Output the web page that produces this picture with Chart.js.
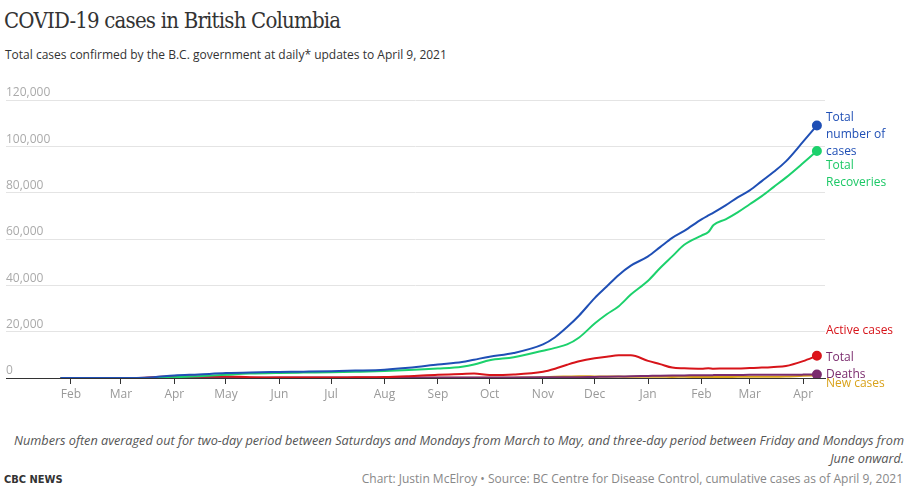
<!DOCTYPE html>
<html>
<head>
<meta charset="utf-8">
<title>COVID-19 cases in British Columbia</title>
<script src="https://cdn.jsdelivr.net/npm/chart.js@4.4.1/dist/chart.umd.min.js"></script>
<style>
  html, body { margin: 0; padding: 0; background: #fff; }
  body { width: 911px; height: 501px; position: relative; overflow: hidden; font-family: "Open Sans", sans-serif; }
  .abs { position: absolute; white-space: nowrap; }
  #title { left: 4px; top: 8px; font-family: "DejaVu Serif Condensed", "DejaVu Serif", serif; font-size: 22px; color: #333; letter-spacing: -0.8px; }
  #subtitle { left: 5px; top: 46px; font-size: 12px; color: #333; }
  #note { right: 7px; top: 431px; width: 900px; text-align: right; white-space: normal; font-size: 12.7px; font-style: italic; color: #555; line-height: 18px; }
  #brand { left: 4px; top: 473px; font-family: "DejaVu Sans Condensed", "DejaVu Sans", sans-serif; font-weight: bold; font-size: 11px; color: #333; }
  #source { right: 8px; top: 470px; font-size: 12px; color: #888; }
  #wrap { position: absolute; left: 0; top: 80px; width: 911px; height: 330px; }
</style>
</head>
<body>
<div id="title" class="abs">COVID-19 cases in British Columbia</div>
<div id="subtitle" class="abs">Total cases confirmed by the B.C. government at daily* updates to April 9, 2021</div>
<div id="wrap"><canvas id="chart"></canvas></div>
<div id="note" class="abs">Numbers often averaged out for two-day period between Saturdays and Mondays from March to May, and three-day period between Friday and Mondays from June onward.</div>
<div id="brand" class="abs">CBC NEWS</div>
<div id="source" class="abs">Chart: Justin McElroy • Source: BC Centre for Disease Control, cumulative cases as of April 9, 2021</div>

<script>
// Dates of the readings (shared by every series)
const dates = [
  "2020-01-26", "2020-02-15", "2020-03-01", "2020-03-10", "2020-03-20",
  "2020-04-01", "2020-04-15", "2020-05-01", "2020-05-15", "2020-06-01",
  "2020-06-15", "2020-07-01", "2020-07-15", "2020-08-01", "2020-08-15",
  "2020-09-01", "2020-09-15", "2020-09-22", "2020-10-01", "2020-10-15",
  "2020-11-01", "2020-11-08", "2020-11-15", "2020-11-22", "2020-12-01",
  "2020-12-08", "2020-12-15", "2020-12-22", "2021-01-01", "2021-01-08",
  "2021-01-15", "2021-01-22", "2021-02-01", "2021-02-05", "2021-02-08",
  "2021-02-15", "2021-02-22", "2021-03-01", "2021-03-08", "2021-03-15",
  "2021-03-22", "2021-04-01", "2021-04-09"
];

const totalCases = [
  0, 5, 8, 40, 350,
  1070, 1530, 2110, 2400, 2600,
  2750, 2950, 3200, 3600, 4400,
  5800, 6900, 7900, 9200, 10800,
  14500, 17600, 22000, 27000, 34500,
  39500, 44500, 48500, 52500, 56500,
  60500, 63500, 68500, 70200, 71400,
  74500, 78000, 81000, 85000, 89000,
  93500, 102000, 109000
];

const recoveries = [
  0, 0, 4, 5, 10,
  300, 800, 1400, 1900, 2200,
  2350, 2500, 2700, 3000, 3400,
  4100, 4900, 5800, 7700, 9000,
  11800, 13000, 14500, 17500, 23500,
  27500, 31000, 36000, 42000, 47500,
  52500, 57500, 61500, 63000, 66000,
  68500, 71500, 75000, 78500, 82500,
  86500, 92800, 98000
];

const activeCases = [
  0, 5, 4, 35, 330,
  730, 680, 640, 350, 250,
  200, 180, 280, 400, 800,
  1450, 1750, 1900, 1250, 1500,
  2700, 4000, 5700, 7200, 8500,
  9200, 9800, 9800, 7400, 6000,
  4500, 4200, 4000, 4200, 4000,
  4100, 4100, 4300, 4500, 4800,
  5200, 7300, 9600
];

const deaths = [
  0, 0, 0, 1, 8,
  25, 72, 111, 135, 164,
  168, 177, 187, 195, 200,
  208, 217, 224, 234, 250,
  273, 284, 299, 353, 457,
  527, 623, 755, 901, 1004,
  1078, 1126, 1168, 1231, 1242,
  1285, 1319, 1365, 1383, 1397,
  1421, 1458, 1488
];

const newCases = [
  0, 0, 0, 7, 60,
  53, 30, 30, 10, 15,
  10, 12, 20, 40, 80,
  100, 130, 120, 120, 160,
  300, 550, 650, 750, 700,
  650, 600, 500, 500, 550,
  480, 500, 420, 450, 420,
  430, 500, 520, 570, 560,
  650, 950, 1100
];

// Month ticks along the x axis
const monthStarts = [
  "2020-02-01", "2020-03-01", "2020-04-01", "2020-05-01", "2020-06-01",
  "2020-07-01", "2020-08-01", "2020-09-01", "2020-10-01", "2020-11-01",
  "2020-12-01", "2021-01-01", "2021-02-01", "2021-03-01", "2021-04-01"
];
const monthLabels = ["Feb", "Mar", "Apr", "May", "Jun", "Jul", "Aug", "Sep", "Oct", "Nov", "Dec", "Jan", "Feb", "Mar", "Apr"];

const yTicks = [0, 20000, 40000, 60000, 80000, 100000, 120000];

// Days since Feb 1, 2020 so a plain linear scale can be used
function dayOf(s) {
  const p = s.split("-").map(Number);
  return (Date.UTC(p[0], p[1] - 1, p[2]) - Date.UTC(2020, 1, 1)) / 86400000;
}

function toPoints(values) {
  return values.map(function (v, i) {
    return { x: dayOf(dates[i]), y: v };
  });
}

const lastIndex = dates.length - 1;
function endDot(size) {
  return function (ctx) { return ctx.dataIndex === lastIndex ? size : 0; };
}

// Text shown to the right of each line end
const endLabels = [
  { dataset: 0, lines: ["Total", "number of", "cases"], color: "#1f4fb5", dy: -8 },
  { dataset: 1, lines: ["Total", "Recoveries"], color: "#1cc866", dy: 15 },
  { dataset: 2, lines: ["Active cases"], color: "#d7141a", dy: -25 },
  { dataset: 3, lines: ["Total", "Deaths"], color: "#7b2c6e", dy: -17 },
  { dataset: 4, lines: ["New cases"], color: "#d9a21b", dy: 8 }
];

const endLabelPlugin = {
  id: "endLabels",
  afterDatasetsDraw: function (chart) {
    const ctx = chart.ctx;
    const yScale = chart.scales.y;
    ctx.save();
    ctx.font = "12px 'Open Sans'";
    ctx.textAlign = "left";
    ctx.textBaseline = "middle";
    endLabels.forEach(function (lab) {
      const data = chart.data.datasets[lab.dataset].data;
      const y0 = yScale.getPixelForValue(data[data.length - 1].y) + lab.dy;
      ctx.fillStyle = lab.color;
      lab.lines.forEach(function (line, i) {
        ctx.fillText(line, chart.chartArea.right + 1, y0 + i * 17);
      });
    });
    ctx.restore();
  }
};

const ctx = document.getElementById("chart").getContext("2d");

new Chart(ctx, {
  type: "line",
  data: {
    datasets: [
      {
        label: "Total number of cases",
        data: toPoints(totalCases),
        borderColor: "#1f4fb5",
        backgroundColor: "#1f4fb5",
        borderWidth: 2,
        pointRadius: endDot(4),
        pointHoverRadius: 0
      },
      {
        label: "Total Recoveries",
        data: toPoints(recoveries),
        borderColor: "#1cd16c",
        backgroundColor: "#1cd16c",
        borderWidth: 2,
        pointRadius: endDot(4),
        pointHoverRadius: 0
      },
      {
        label: "Active cases",
        data: toPoints(activeCases),
        borderColor: "#d7141a",
        backgroundColor: "#e0131a",
        borderWidth: 2,
        pointRadius: endDot(4),
        pointHoverRadius: 0
      },
      {
        label: "Total Deaths",
        data: toPoints(deaths),
        borderColor: "#7b2c6e",
        backgroundColor: "#7b2c6e",
        borderWidth: 2,
        pointRadius: endDot(4),
        pointHoverRadius: 0
      },
      {
        label: "New cases",
        data: toPoints(newCases),
        borderColor: "#d9a21b",
        backgroundColor: "#d9a21b",
        borderWidth: 2,
        pointRadius: 0,
        pointHoverRadius: 0
      }
    ]
  },
  options: {
    responsive: true,
    maintainAspectRatio: false,
    animation: false,
    cubicInterpolationMode: "monotone",
    layout: { padding: { left: 5, right: 86, top: 20, bottom: 5.6 } },
    plugins: {
      legend: { display: false },
      tooltip: { enabled: false }
    },
    scales: {
      x: {
        type: "linear",
        min: -37.7,
        max: 437.7,
        afterBuildTicks: function (scale) {
          scale.ticks = monthStarts.map(function (d) { return { value: dayOf(d) }; });
        },
        grid: { drawOnChartArea: false, color: "#333", tickLength: 6 },
        border: { display: true, color: "#333", width: 1 },
        ticks: {
          autoSkip: false,
          maxRotation: 0,
          padding: 3,
          color: "#999",
          font: { family: "Open Sans", size: 12 },
          callback: function (value, index) { return monthLabels[index]; }
        }
      },
      y: {
        min: 0,
        max: 120000,
        afterBuildTicks: function (scale) {
          scale.ticks = yTicks.map(function (v) { return { value: v }; });
        },
        grid: { color: "#e4e4e4", drawTicks: false },
        border: { display: false },
        ticks: {
          mirror: true,
          padding: 0,
          labelOffset: -7,
          color: "#aaa",
          font: { family: "Open Sans", size: 12 },
          callback: function (value) { return value.toLocaleString("en-US"); }
        }
      }
    }
  },
  plugins: [endLabelPlugin]
});
</script>
</body>
</html>
